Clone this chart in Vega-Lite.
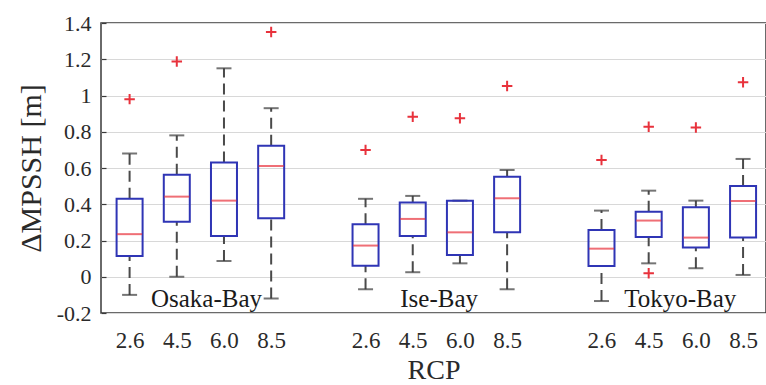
{
  "$schema": "https://vega.github.io/schema/vega-lite/v6.json",
  "width": 665,
  "height": 290,
  "autosize": {"type": "none"},
  "padding": {"left": 101, "top": 23, "right": 0, "bottom": 72},
  "background": "white",
  "config": {
    "font": "Liberation Serif",
    "view": {"stroke": "#3a3a3a", "strokeWidth": 1.5},
    "axis": {"labelFont": "Liberation Serif", "titleFont": "Liberation Serif", "labelColor": "#2a2a2a", "titleColor": "#2a2a2a", "titleFontWeight": "normal"}
  },
  "datasets": {
    "boxes": [
      {"bay": "Osaka-Bay", "rcp": "2.6", "pos": 0, "low": -0.1, "q1": 0.115, "med": 0.235, "q3": 0.43, "high": 0.68},
      {"bay": "Osaka-Bay", "rcp": "4.5", "pos": 1, "low": 0.0, "q1": 0.304, "med": 0.442, "q3": 0.563, "high": 0.78},
      {"bay": "Osaka-Bay", "rcp": "6.0", "pos": 2, "low": 0.087, "q1": 0.225, "med": 0.42, "q3": 0.63, "high": 1.15},
      {"bay": "Osaka-Bay", "rcp": "8.5", "pos": 3, "low": -0.12, "q1": 0.323, "med": 0.611, "q3": 0.723, "high": 0.93},
      {"bay": "Ise-Bay", "rcp": "2.6", "pos": 5, "low": -0.069, "q1": 0.061, "med": 0.172, "q3": 0.29, "high": 0.43},
      {"bay": "Ise-Bay", "rcp": "4.5", "pos": 6, "low": 0.025, "q1": 0.225, "med": 0.319, "q3": 0.409, "high": 0.446},
      {"bay": "Ise-Bay", "rcp": "6.0", "pos": 7, "low": 0.074, "q1": 0.12, "med": 0.245, "q3": 0.42, "high": 0.42},
      {"bay": "Ise-Bay", "rcp": "8.5", "pos": 8, "low": -0.069, "q1": 0.245, "med": 0.433, "q3": 0.552, "high": 0.589},
      {"bay": "Tokyo-Bay", "rcp": "2.6", "pos": 10, "low": -0.134, "q1": 0.06, "med": 0.155, "q3": 0.258, "high": 0.365},
      {"bay": "Tokyo-Bay", "rcp": "4.5", "pos": 11, "low": 0.074, "q1": 0.22, "med": 0.31, "q3": 0.358, "high": 0.475},
      {"bay": "Tokyo-Bay", "rcp": "6.0", "pos": 12, "low": 0.047, "q1": 0.161, "med": 0.216, "q3": 0.383, "high": 0.42},
      {"bay": "Tokyo-Bay", "rcp": "8.5", "pos": 13, "low": 0.01, "q1": 0.216, "med": 0.418, "q3": 0.501, "high": 0.65}
    ],
    "outliers": [
      {"pos": 0, "value": 0.98},
      {"pos": 1, "value": 1.187},
      {"pos": 3, "value": 1.35},
      {"pos": 5, "value": 0.70},
      {"pos": 6, "value": 0.883},
      {"pos": 7, "value": 0.874},
      {"pos": 8, "value": 1.053},
      {"pos": 10, "value": 0.644},
      {"pos": 11, "value": 0.828},
      {"pos": 11, "value": 0.019},
      {"pos": 12, "value": 0.823},
      {"pos": 13, "value": 1.073}
    ],
    "labels": [
      {"pos": 1.63, "value": -0.169, "text": "Osaka-Bay"},
      {"pos": 6.56, "value": -0.169, "text": "Ise-Bay"},
      {"pos": 11.67, "value": -0.169, "text": "Tokyo-Bay"}
    ]
  },
  "layer": [
    {
      "data": {"name": "boxes"},
      "mark": {"type": "rule", "color": "#4a4a4a", "strokeWidth": 2, "strokeDash": [11, 6]},
      "encoding": {
        "x": {
          "field": "pos", "type": "quantitative",
          "scale": {"domain": [-0.5, 13.38], "nice": false, "zero": false},
          "axis": {
            "values": [0, 1, 2, 3, 5, 6, 7, 8, 10, 11, 12, 13],
            "tickCount": 30,
            "labelExpr": "['2.6','4.5','6.0','8.5'][datum.value % 5]",
            "grid": false, "domain": false, "ticks": false, "labelOverlap": false,
            "labelFontSize": 23, "labelPadding": 16,
            "title": "RCP", "titleFontSize": 28, "titlePadding": 4
          }
        },
        "y": {
          "field": "low", "type": "quantitative",
          "scale": {"domain": [-0.2, 1.4], "nice": false, "zero": false},
          "axis": {
            "values": [-0.2, 0, 0.2, 0.4, 0.6, 0.8, 1, 1.2, 1.4],
            "tickCount": 30,
            "labelExpr": "toString(round(datum.value*10)/10)",
            "grid": true, "gridColor": "#d8d8d8", "gridWidth": 1.2,
            "domain": false, "ticks": true, "tickSize": -5, "tickColor": "#3a3a3a", "tickWidth": 1.2,
            "labelOverlap": false, "labelFlush": false,
            "labelFontSize": 22, "labelPadding": 15,
            "title": "ΔMPSSH [m]", "titleFontSize": 30, "titlePadding": 10
          }
        },
        "y2": {"field": "q1"}
      }
    },
    {
      "data": {"name": "boxes"},
      "mark": {"type": "rule", "color": "#4a4a4a", "strokeWidth": 2, "strokeDash": [11, 6]},
      "encoding": {
        "x": {"field": "pos", "type": "quantitative"},
        "y": {"field": "q3", "type": "quantitative"},
        "y2": {"field": "high"}
      }
    },
    {
      "data": {"name": "boxes"},
      "mark": {"type": "tick", "orient": "horizontal", "color": "#3a3a3a", "size": 15, "thickness": 2},
      "encoding": {
        "x": {"field": "pos", "type": "quantitative"},
        "y": {"field": "low", "type": "quantitative"}
      }
    },
    {
      "data": {"name": "boxes"},
      "mark": {"type": "tick", "orient": "horizontal", "color": "#3a3a3a", "size": 15, "thickness": 2},
      "encoding": {
        "x": {"field": "pos", "type": "quantitative"},
        "y": {"field": "high", "type": "quantitative"}
      }
    },
    {
      "data": {"name": "boxes"},
      "mark": {"type": "bar", "size": 26, "fill": "white", "fillOpacity": 0, "stroke": "#2f35b5", "strokeWidth": 2},
      "encoding": {
        "x": {"field": "pos", "type": "quantitative"},
        "y": {"field": "q1", "type": "quantitative"},
        "y2": {"field": "q3"}
      }
    },
    {
      "data": {"name": "boxes"},
      "mark": {"type": "tick", "orient": "horizontal", "color": "#e8323c", "size": 25, "thickness": 2},
      "encoding": {
        "x": {"field": "pos", "type": "quantitative"},
        "y": {"field": "med", "type": "quantitative"}
      }
    },
    {
      "data": {"name": "outliers"},
      "mark": {"type": "point", "shape": "M-1,0H1M0,-1V1", "size": 110, "filled": false, "stroke": "#e8323c", "strokeWidth": 2, "opacity": 1},
      "encoding": {
        "x": {"field": "pos", "type": "quantitative"},
        "y": {"field": "value", "type": "quantitative"}
      }
    },
    {
      "data": {"name": "labels"},
      "mark": {"type": "text", "fontSize": 25, "color": "#1a1a1a", "baseline": "alphabetic", "align": "center"},
      "encoding": {
        "x": {"field": "pos", "type": "quantitative"},
        "y": {"field": "value", "type": "quantitative"},
        "text": {"field": "text"}
      }
    }
  ]
}
